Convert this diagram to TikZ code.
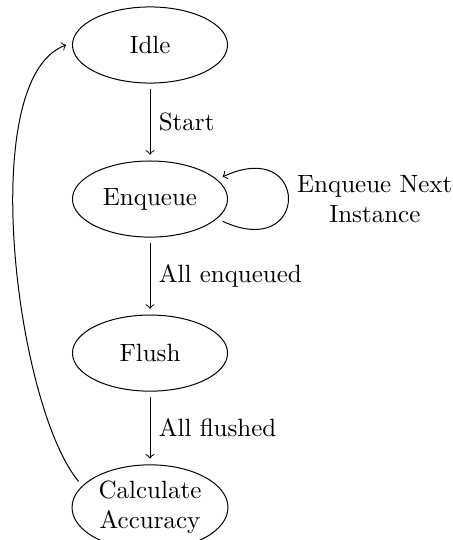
\documentclass[tikz,border=0pt]{standalone}
\usetikzlibrary{shapes.geometric,positioning}

\begin{document}
\begin{tikzpicture}[
  >=to,
  statenode/.style={ellipse, draw, minimum width=2.18cm, minimum height=1.07cm, inner sep=1.5pt, outer sep=2.5pt, align=center},
  edgelabel/.style={right, align=center}
]
  \useasboundingbox (-60pt,18pt) rectangle (121.2pt,-198pt);

  % States, top to bottom
  \node[statenode] (idle) {Idle};
  \node[statenode, below=0.92cm of idle] (enqueue) {Enqueue};
  \node[statenode, below=0.92cm of enqueue] (flush) {Flush};
  \node[statenode, below=0.86cm of flush] (calcacc) {Calculate\\Accuracy};

  % Transitions
  \draw[->] (idle) -- node[edgelabel] {Start} (enqueue);
  \draw[->] (enqueue.-17) to[out=-25, in=25, looseness=5.6] node[edgelabel] {Enqueue Next\\Instance} (enqueue.17);
  \draw[->] (enqueue) -- node[edgelabel] {All enqueued} (flush);
  \draw[->] (flush) -- node[edgelabel] {All flushed} (calcacc);

  % Back to the start
  \draw[->] (calcacc.160) to[out=130, in=200, looseness=0.57] (idle.west);
\end{tikzpicture}
\end{document}
